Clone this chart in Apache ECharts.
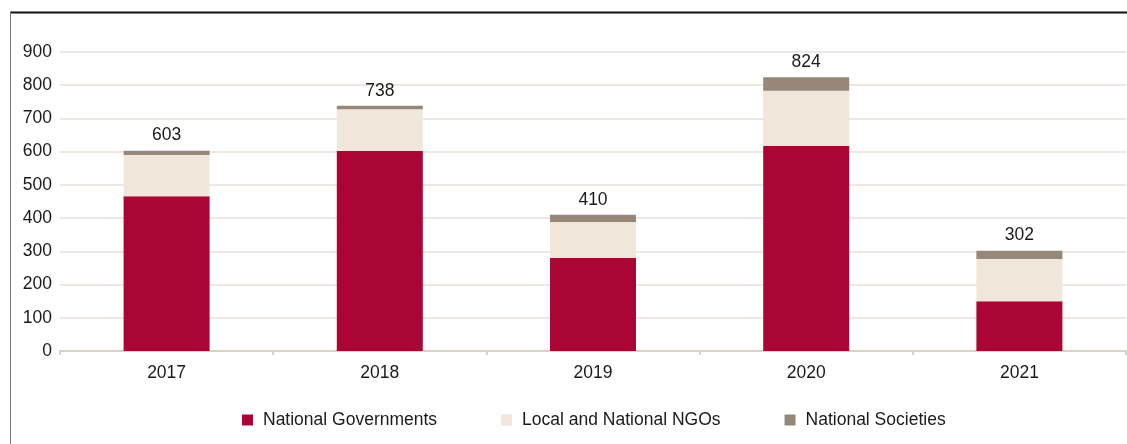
<!DOCTYPE html>
<html>
<head>
<meta charset="utf-8">
<script src="https://cdn.jsdelivr.net/npm/echarts@6/dist/echarts.min.js"></script>
<style>
  html, body { margin: 0; padding: 0; background: #fff; }
  #main { width: 1127px; height: 444px; }
</style>
</head>
<body>
<div id="main"></div>
<script>
// data
var years = ["2017", "2018", "2019", "2020", "2021"];
var nationalGovernments = [466, 602, 280, 617, 150];
var localNGOs = [124, 126, 108, 166, 127];
var nationalSocieties = [13, 10, 22, 41, 25];
var totals = [603, 738, 410, 824, 302];
var yTicks = [0, 100, 200, 300, 400, 500, 600, 700, 800, 900];

var font = '"Liberation Sans", Arial, sans-serif';
var fontSize = 17.5;
var textColor = "#1a1a1a";

var chart = echarts.init(document.getElementById("main"));
chart.setOption({
  animation: false,
  textStyle: { fontFamily: font },
  graphic: [
    {
      type: "line",
      shape: { x1: 10, y1: 12.5, x2: 1127, y2: 12.5 },
      style: { stroke: "#111", lineWidth: 2 },
    },
    {
      type: "line",
      shape: { x1: 10.5, y1: 12, x2: 10.5, y2: 444 },
      style: { stroke: "#777", lineWidth: 1 },
    },
  ],
  legend: {
    left: 237,
    top: 406,
    itemWidth: 11,
    itemHeight: 11,
    itemGap: 64,
    icon: "rect",
    textStyle: {
      fontFamily: font,
      fontSize: fontSize,
      color: textColor,
      padding: [0, 0, 0, 5],
    },
    data: ["National Governments", "Local and National NGOs", "National Societies"],
  },
  grid: {
    left: 60,
    right: 1,
    top: 52,
    bottom: 93,
    containLabel: false,
  },
  xAxis: {
    type: "category",
    data: years,
    axisLine: { lineStyle: { color: "#DBD1C5", width: 2 } },
    axisTick: { show: true, length: 4, lineStyle: { color: "#DBD1C5", width: 2 } },
    axisLabel: {
      fontFamily: font,
      fontSize: fontSize,
      color: textColor,
      margin: 13,
    },
  },
  yAxis: {
    type: "value",
    min: yTicks[0],
    max: yTicks[yTicks.length - 1],
    interval: 100,
    axisLine: { show: false },
    axisTick: { show: false },
    axisLabel: {
      fontFamily: font,
      fontSize: fontSize,
      color: textColor,
      margin: 8,
    },
    splitLine: { lineStyle: { color: "#EFE8E1", width: 2 } },
  },
  series: [
    {
      name: "National Governments",
      type: "bar",
      stack: "total",
      barWidth: 86,
      itemStyle: { color: "#AB0535" },
      data: nationalGovernments,
    },
    {
      name: "Local and National NGOs",
      type: "bar",
      stack: "total",
      barWidth: 86,
      itemStyle: { color: "#F0E7DA" },
      data: localNGOs,
    },
    {
      name: "National Societies",
      type: "bar",
      stack: "total",
      barWidth: 86,
      itemStyle: { color: "#968779" },
      label: {
        show: true,
        position: "top",
        distance: 6,
        fontFamily: font,
        fontSize: fontSize,
        color: textColor,
        formatter: function (p) {
          return totals[p.dataIndex];
        },
      },
      data: nationalSocieties,
    },
  ],
});
</script>
</body>
</html>
